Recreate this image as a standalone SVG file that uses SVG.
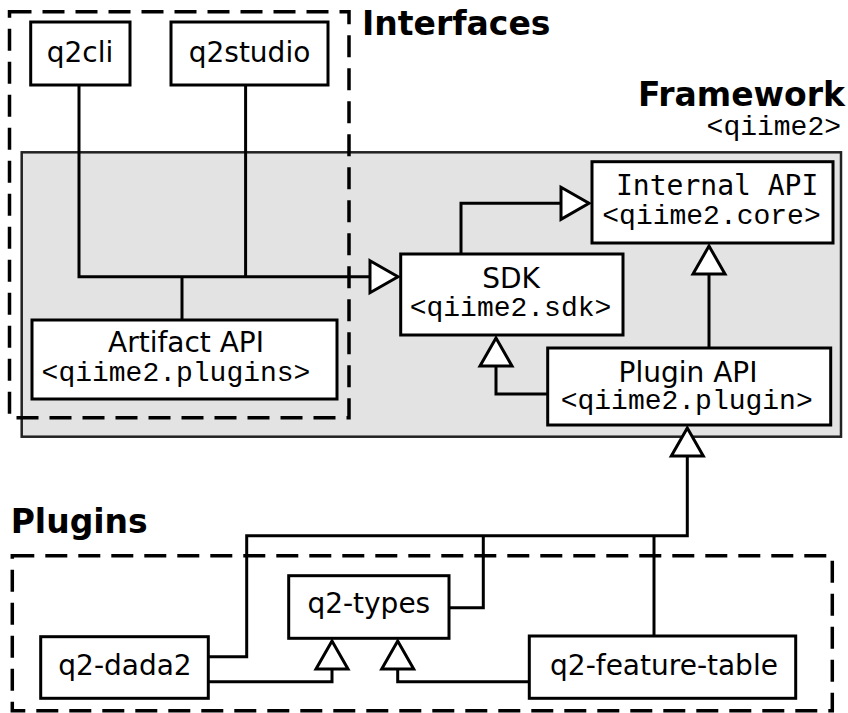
<svg xmlns="http://www.w3.org/2000/svg" width="848" height="713" viewBox="0 0 848 713">
<style>
.frame{fill:#e3e3e3;stroke:#222;stroke-width:2.5}
.dash{fill:none;stroke:#000;stroke-width:3.5;stroke-dasharray:22 11}
.box{fill:#fff;stroke:#000;stroke-width:3}
.conn{fill:none;stroke:#000;stroke-width:3}
.sans{font-family:"DejaVu Sans",Verdana,sans-serif;font-size:28px;fill:#000}
.mono{font-family:"Liberation Mono","Courier New",monospace;font-size:28px;fill:#000}
.smono{font-family:"DejaVu Sans Mono",monospace;font-size:28px;fill:#000}
.title{font-family:"DejaVu Sans",Verdana,sans-serif;font-size:33px;font-weight:bold;fill:#000}
</style>
<defs>
<marker id="tri" markerUnits="userSpaceOnUse" viewBox="-3 -20 36 40" markerWidth="36" markerHeight="40" refX="28" refY="0" orient="auto" overflow="visible">
<path d="M0,-16 L28,0 L0,16 Z" fill="#fff" stroke="#000" stroke-width="3"/>
</marker>
</defs>
<g id="framework">
<rect class="frame" x="21.7" y="152.3" width="819.3" height="284.4"/>
<text class="title" x="845" y="105.5" text-anchor="end">Framework</text>
<text class="mono" x="841" y="135" text-anchor="end">&lt;qiime2&gt;</text>
</g>
<g id="interfaces">
<rect class="dash" x="9.5" y="11.7" width="339.5" height="406"/>
<text class="title" x="362" y="35">Interfaces</text>
</g>
<g id="plugins">
<rect class="dash" x="12.3" y="555.7" width="820" height="155"/>
<text class="title" x="10.7" y="533.3">Plugins</text>
</g>
<g id="connectors">
<path class="conn" d="M79,85 V276.7 H398" marker-end="url(#tri)"/>
<path class="conn" d="M245.6,85 V276.7"/>
<path class="conn" d="M182,320 V276.7"/>
<path class="conn" d="M461,254 V203.3 H589" marker-end="url(#tri)"/>
<path class="conn" d="M709,348 V246" marker-end="url(#tri)"/>
<path class="conn" d="M548,394 H496 V338" marker-end="url(#tri)"/>
<path class="conn" d="M209,656.7 H246.7 V535.7 H687.3 V428" marker-end="url(#tri)"/>
<path class="conn" d="M449,607.7 H483.3 V535.7"/>
<path class="conn" d="M654,636 V535.7"/>
<path class="conn" d="M209,681.7 H332 V641" marker-end="url(#tri)"/>
<path class="conn" d="M529,681.7 H397.7 V641" marker-end="url(#tri)"/>
</g>
<g id="q2cli">
<rect class="box" x="30.7" y="22" width="99.3" height="63"/>
<text class="sans" x="80" y="61.7" text-anchor="middle">q2cli</text>
</g>
<g id="q2studio">
<rect class="box" x="171" y="22" width="157" height="63"/>
<text class="sans" x="249.5" y="61.7" text-anchor="middle">q2studio</text>
</g>
<g id="artifact-api">
<rect class="box" x="32" y="320" width="305" height="79"/>
<text class="sans" x="186" y="351.7" text-anchor="middle">Artifact API</text>
<text class="mono" x="176" y="381" text-anchor="middle">&lt;qiime2.plugins&gt;</text>
</g>
<g id="sdk">
<rect class="box" x="400.7" y="254" width="222.3" height="81"/>
<text class="sans" x="511" y="288" text-anchor="middle">SDK</text>
<text class="mono" x="510.5" y="316" text-anchor="middle">&lt;qiime2.sdk&gt;</text>
</g>
<g id="internal-api">
<rect class="box" x="592" y="161.7" width="241" height="81.3"/>
<text class="smono" x="616" y="194.5">Internal API</text>
<text class="mono" x="711.5" y="223.5" text-anchor="middle">&lt;qiime2.core&gt;</text>
</g>
<g id="plugin-api">
<rect class="box" x="547.7" y="348" width="283" height="77"/>
<text class="sans" x="688" y="382" text-anchor="middle">Plugin API</text>
<text class="mono" x="686.7" y="409" text-anchor="middle">&lt;qiime2.plugin&gt;</text>
</g>
<g id="q2-types">
<rect class="box" x="288.7" y="575.7" width="160.3" height="62.6"/>
<text class="sans" x="368.8" y="613.3" text-anchor="middle">q2-types</text>
</g>
<g id="q2-dada2">
<rect class="box" x="40.7" y="636.7" width="167.6" height="61.6"/>
<text class="sans" x="125" y="675" text-anchor="middle">q2-dada2</text>
</g>
<g id="q2-feature-table">
<rect class="box" x="529.3" y="636" width="266.4" height="62.3"/>
<text class="sans" x="664" y="675" text-anchor="middle">q2-feature-table</text>
</g>
</svg>
